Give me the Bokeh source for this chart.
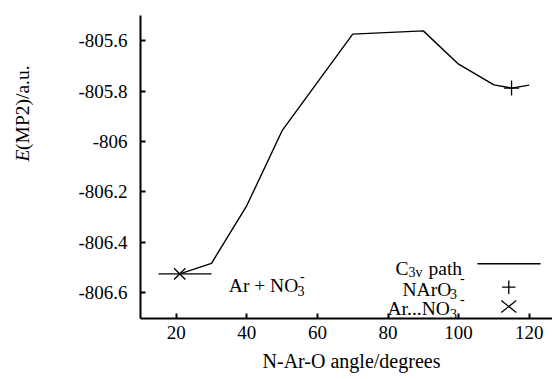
import math
from bokeh.plotting import figure
from bokeh.layouts import row
from bokeh.models import Range1d, FixedTicker, Label, Arrow
from bokeh.embed import file_html
from bokeh.resources import INLINE

# ---- data ----
angle_deg = [21, 30, 40, 50, 70, 90, 100, 110, 115, 120]
energy = [-806.525, -806.483, -806.254, -805.957, -805.574, -805.561,
          -805.693, -805.775, -805.788, -805.776]
narO3_x = [115]
narO3_y = [-805.788]
arno3_x = [21]
arno3_y = [-806.525]
asym_x = [15, 30]
asym_y = [-806.525, -806.525]
x_ticks = [20, 40, 60, 80, 100, 120]
y_ticks = [-806.6, -806.4, -806.2, -806.0, -805.8, -805.6]
y_tick_labels = ["-806.6", "-806.4", "-806.2", "-806", "-805.8", "-805.6"]

FONT = "Liberation Serif"
H = 379
TW = 60            # width of the side strip holding the y-axis title
W = 552 - TW
FL, FB = 140, 318  # page position of frame left / bottom

# ---- side strip with the y-axis title ----
t = figure(width=TW, height=H, output_backend="svg", toolbar_location=None,
           x_range=Range1d(0, 1), y_range=Range1d(0, 1),
           x_axis_type=None, y_axis_type=None, min_border=0)
t.outline_line_color = None
t.xgrid.visible = False
t.ygrid.visible = False
for txt, ypos, style in (("E", 222, "italic"), ("(MP2)/a.u.", 210.4, "normal")):
    t.add_layout(Label(x=22, y=H - ypos, x_units="screen", y_units="screen",
                       text=txt, text_font=FONT, text_font_size="19.5px",
                       text_font_style=style, text_color="black",
                       angle=math.pi / 2, text_align="left", text_baseline="middle"))

# ---- main plot ----
p = figure(width=W, height=H, output_backend="svg", toolbar_location=None,
           x_range=Range1d(9.887, 126.6), y_range=Range1d(-806.702, -805.5))
p.min_border_left = FL - TW
p.min_border_right = 0
p.min_border_top = 15
p.min_border_bottom = H - FB
p.outline_line_color = None
p.xgrid.visible = False
p.ygrid.visible = False
p.background_fill_color = "white"
p.border_fill_color = "white"

for ax in (p.xaxis[0], p.yaxis[0]):
    ax.axis_line_width = 2
    ax.axis_line_color = "black"
    ax.major_tick_in = 5
    ax.major_tick_out = 0
    ax.major_tick_line_width = 2
    ax.major_tick_line_color = "black"
    ax.minor_tick_line_color = None
    ax.major_label_text_font = FONT
    ax.major_label_text_font_style = "normal"
    ax.major_label_text_font_size = "19px"
    ax.major_label_text_color = "black"

p.xaxis.ticker = FixedTicker(ticks=x_ticks)
p.yaxis.ticker = FixedTicker(ticks=y_ticks)
p.yaxis.major_label_overrides = {t_: s for t_, s in zip(y_ticks, y_tick_labels)}
p.xaxis.major_label_standoff = 7
p.yaxis.major_label_standoff = 13

p.xaxis.axis_label = "\u2002N-Ar-O angle/degrees"
p.xaxis.axis_label_text_font = FONT
p.xaxis.axis_label_text_font_size = "20px"
p.xaxis.axis_label_text_font_style = "normal"
p.xaxis.axis_label_text_color = "black"
p.xaxis.axis_label_standoff = 8

# ---- data marks ----
p.line(asym_x, asym_y, line_color="#444444", line_width=1.6)
p.line(angle_deg, energy, line_color="black", line_width=1.4)
p.scatter(narO3_x, narO3_y, marker="cross", size=15, line_color="black", line_width=1.3)
p.scatter(arno3_x, arno3_y, marker="x", size=16, line_color="black", line_width=1.3)


def lab(px, py, text, size="19.5px", style="normal", align="left"):
    p.add_layout(Label(x=px - FL, y=FB - py, x_units="screen", y_units="screen",
                       text=text, text_font=FONT, text_font_size=size,
                       text_font_style=style, text_color="black",
                       text_align=align, text_baseline="alphabetic"))


def seg(x0, y0, x1, y1, width=1.3):
    p.add_layout(Arrow(start=None, end=None, x_start=x0 - FL, y_start=FB - y0,
                       x_end=x1 - FL, y_end=FB - y1, start_units="screen",
                       end_units="screen", line_color="black", line_width=width))


# Ar + NO3- annotation
lab(228.3, 285, "Ar + NO")
lab(297, 290, "3", size="14px")
lab(299.5, 275, "-", size="14px")

# legend
lab(395, 268, "C")
lab(408, 272, "3v", size="14px")
lab(428, 268, "path")
seg(477, 263.3, 540, 263.3, 1.4)

lab(402, 289, "NArO")
lab(449.5, 293.5, "3", size="14px")
lab(459.5, 277, "-", size="14px")
seg(501.6, 286.7, 515.0, 286.7)
seg(508.3, 280.0, 508.3, 293.4)

lab(387, 308.3, "Ar...NO")
lab(449.5, 313, "3", size="14px")
lab(459.5, 298.5, "-", size="14px")
seg(500.8, 300.0, 515.8, 312.0)
seg(500.8, 312.0, 515.8, 300.0)

layout = row(t, p)
open("out.html", "w").write(file_html(layout, INLINE))
